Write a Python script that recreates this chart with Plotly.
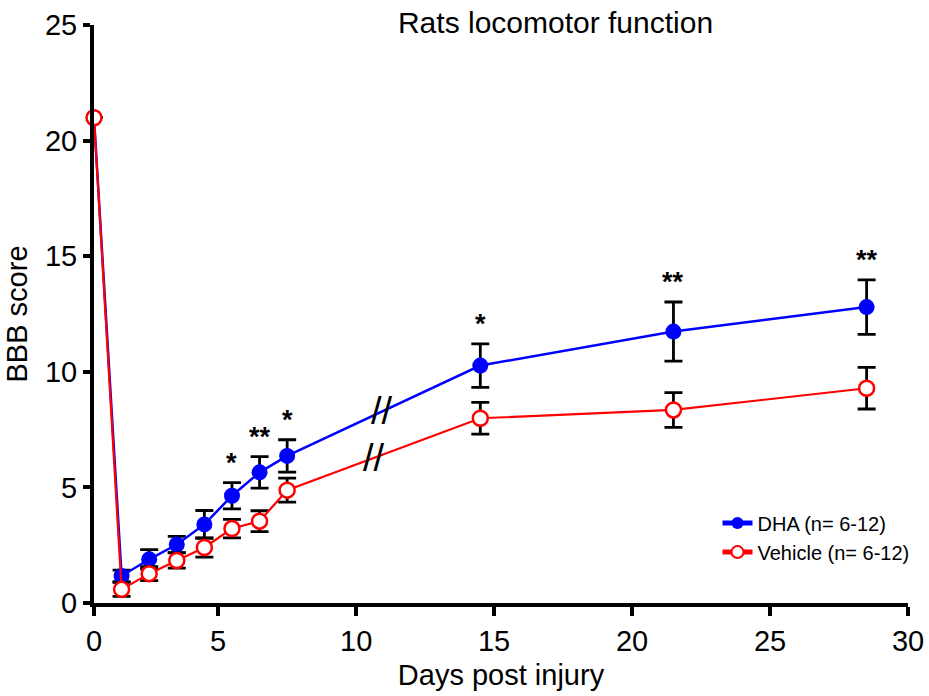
import plotly.graph_objects as go

# ---- data ----
days = [0, 1, 2, 3, 4, 5, 6, 7, 14, 21, 28]
dha_mean = [21.0, 1.17, 1.89, 2.53, 3.40, 4.64, 5.65, 6.36, 10.27, 11.74, 12.80]
dha_sem = [None, 0.25, 0.42, 0.35, 0.60, 0.57, 0.68, 0.70, 0.94, 1.28, 1.18]
veh_mean = [20.99, 0.59, 1.27, 1.84, 2.40, 3.22, 3.54, 4.88, 7.99, 8.35, 9.29]
veh_sem = [None, 0.30, 0.30, 0.33, 0.42, 0.40, 0.45, 0.52, 0.69, 0.75, 0.90]

sig_days = [5, 6, 7, 14, 21, 28]
sig_marks = ["*", "**", "*", "*", "**", "**"]

# tick labels as drawn in the reference (labels sit half a day left of the day grid)
tick_pos = [0, 4.5, 9.5, 14.5, 19.5, 24.5, 29.5]
tick_text = ["0", "5", "10", "15", "20", "25", "30"]

break_day = 10.2  # axis-break marks on the lines between day 7 and day 14

FONT = "Arial, Liberation Sans, sans-serif"

fig = go.Figure()
fig.add_trace(go.Scatter(
    x=days, y=dha_mean, name="DHA (n= 6-12)", mode="lines+markers",
    line=dict(color="#0000FF", width=2.5),
    marker=dict(color="#0000FF", size=16, line=dict(color="#0000FF", width=0)),
    error_y=dict(type="data", array=dha_sem, visible=True, color="black",
                 thickness=2.8, width=9),
    cliponaxis=False,
))
fig.add_trace(go.Scatter(
    x=days, y=veh_mean, name="Vehicle (n= 6-12)", mode="lines+markers",
    line=dict(color="#FF0000", width=2.2),
    marker=dict(color="white", size=15, line=dict(color="#FF0000", width=2.5)),
    error_y=dict(type="data", array=veh_sem, visible=True, color="black",
                 thickness=2.8, width=9),
    cliponaxis=False,
))

# significance asterisks above DHA error bars
for d, s in zip(sig_days, sig_marks):
    i = days.index(d)
    fig.add_annotation(x=d, y=dha_mean[i] + dha_sem[i], text="<b>" + s + "</b>", showarrow=False,
                       yanchor="middle", yshift=20,
                       font=dict(family=FONT, size=27, color="black"))

# axis-break marks on both lines
def interp(series, x):
    i7, i14 = days.index(7), days.index(14)
    t = (x - days[i7]) / (days[i14] - days[i7])
    return series[i7] + t * (series[i14] - series[i7])

for series, dx in ((dha_mean, 0.25), (veh_mean, -0.05)):
    fig.add_annotation(x=break_day + dx, y=interp(series, break_day + dx), text="//",
                       showarrow=False, xanchor="center", yanchor="middle",
                       font=dict(family=FONT, size=38, color="black"))

fig.update_layout(
    width=929, height=696,
    margin=dict(l=94, r=21, t=25, b=93),
    paper_bgcolor="white", plot_bgcolor="white",
    font=dict(family=FONT, color="black"),
    title=dict(text="Rats locomotor function", x=0.598, xanchor="center",
               y=0.968, yanchor="middle",
               font=dict(family=FONT, size=30, color="black")),
    showlegend=True,
    legend=dict(x=1.008, y=0.172, xanchor="right", yanchor="top",
                bgcolor="rgba(0,0,0,0)", font=dict(family=FONT, size=20),
                itemsizing="constant", tracegroupgap=2),
)
fig.update_xaxes(
    range=[0, 29.5], tickmode="array", tickvals=tick_pos, ticktext=tick_text,
    showline=True, linecolor="black", linewidth=4, automargin=False,
    ticks="outside", ticklen=9, tickwidth=4, tickcolor="black",
    tickfont=dict(family=FONT, size=29), showgrid=False, zeroline=False,
    title=dict(text="Days post injury", font=dict(family=FONT, size=29), standoff=10),
)
fig.update_yaxes(
    range=[0, 25], tickmode="array", tickvals=[0, 5, 10, 15, 20, 25],
    showline=True, linecolor="black", linewidth=4, automargin=False,
    ticks="outside", ticklen=7, tickwidth=4, tickcolor="black",
    tickfont=dict(family=FONT, size=29), showgrid=False, zeroline=False,
    title=dict(text="BBB score", font=dict(family=FONT, size=29), standoff=10),
)

fig.write_html("out.html")
